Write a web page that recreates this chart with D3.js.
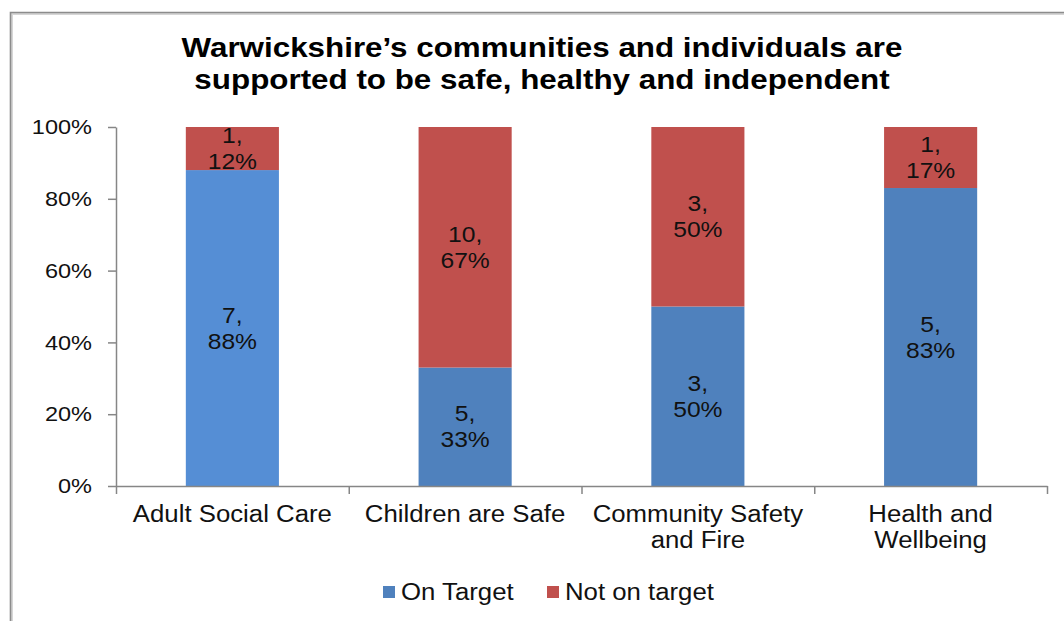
<!DOCTYPE html>
<html>
<head>
<meta charset="utf-8">
<script src="https://cdn.jsdelivr.net/npm/d3@7/dist/d3.min.js"></script>
<style>
  html, body { margin: 0; padding: 0; background: #fff; }
  svg { display: block; font-family: "Liberation Sans", Arial, sans-serif; }
</style>
</head>
<body>
<svg id="chart" width="1064" height="621"></svg>
<script>
// Performance measures by theme: counts and shares on / not on target
const titleLines = ["Warwickshire\u2019s communities and individuals are",
                    "supported to be safe, healthy and independent"];
const categories = ["Adult Social Care", "Children are Safe", "Community Safety and Fire", "Health and Wellbeing"];
const categoryLines = [["Adult Social Care"], ["Children are Safe"], ["Community Safety", "and Fire"], ["Health and", "Wellbeing"]];
const seriesNames = ["On Target", "Not on target"];
const onTargetCount = [7, 5, 3, 5];
const notOnTargetCount = [1, 10, 3, 1];
const onTargetPct = [88, 33, 50, 83];
const notOnTargetPct = [12, 67, 50, 17];
const yTicks = [0, 20, 40, 60, 80, 100];

// Palette
const blue = "#4F81BD", blueLight = "#558ED5", red = "#C0504D";
const onTargetColors = [blueLight, blue, blue, blue];
const axisColor = "#868686";
const STRETCH = 1.12; // text is set slightly wide

const svg = d3.select("#chart");

function widen(sel) {
  sel.each(function () {
    const w = this.getComputedTextLength();
    this.setAttribute("textLength", w * STRETCH);
    this.setAttribute("lengthAdjust", "spacingAndGlyphs");
  });
}

// Frame (top and left edges visible)
svg.append("path").attr("d", "M12,621 V14 H1064").attr("fill", "none")
  .attr("stroke", "#d6d6d6").attr("stroke-width", 2);
svg.append("path").attr("d", "M10.5,621 V12.5 H1064").attr("fill", "none")
  .attr("stroke", "#8c8c8c").attr("stroke-width", 1.6);

// Title
svg.append("g").selectAll("text").data(titleLines).join("text")
  .attr("x", 542).attr("y", (d, i) => 57 + i * 32)
  .attr("text-anchor", "middle").attr("font-size", 28).attr("font-weight", "bold")
  .attr("fill", "#000").text(d => d).call(widen);

// Scales
const x = d3.scaleBand().domain(categories).range([116, 1047]).paddingInner(0.6).paddingOuter(0.3);
const y = d3.scaleLinear().domain([0, 100]).range([486, 127]);
const xEdge = d3.scaleLinear().domain([0, categories.length]).range([116, 1047]);

// Stack
const rows = categories.map((c, i) => ({
  cat: c, i,
  on: onTargetPct[i], off: notOnTargetPct[i],
  onN: onTargetCount[i], offN: notOnTargetCount[i]
}));
const stack = d3.stack().keys(["on", "off"])(rows);

const barG = svg.append("g");
stack.forEach((layer, li) => {
  barG.selectAll(null).data(layer).join("rect")
    .attr("x", d => x(d.data.cat))
    .attr("width", x.bandwidth())
    .attr("y", d => y(d[1]))
    .attr("height", d => y(d[0]) - y(d[1]))
    .attr("fill", d => li === 0 ? onTargetColors[d.data.i] : red);
});

// Data labels: "count," above "pct%"
const labelG = svg.append("g");
stack.forEach((layer, li) => {
  layer.forEach(d => {
    const cx = x(d.data.cat) + x.bandwidth() / 2;
    const cy = (y(d[0]) + y(d[1])) / 2;
    const n = li === 0 ? d.data.onN : d.data.offN;
    const p = li === 0 ? d.data.on : d.data.off;
    [n + ",", p + "%"].forEach((t, k) => {
      labelG.append("text")
        .attr("x", cx).attr("y", cy + (k === 0 ? -13 : 13))
        .attr("dy", "0.35em").attr("text-anchor", "middle")
        .attr("font-size", 22).attr("fill", "#111").text(t).call(widen);
    });
  });
});

// Y axis
const yAxis = svg.append("g").attr("transform", "translate(116,0)")
  .call(d3.axisLeft(y).tickValues(yTicks).tickFormat(d => d + "%")
    .tickSize(8).tickSizeOuter(0).tickPadding(16));
yAxis.select(".domain").attr("stroke", axisColor).attr("stroke-width", 1.5);
yAxis.selectAll(".tick line").attr("stroke", axisColor).attr("stroke-width", 1.5);
yAxis.selectAll(".tick text").attr("font-size", 21).attr("fill", "#111")
  .attr("font-family", "'Liberation Sans', Arial, sans-serif").call(widen);

// X axis: ticks at category boundaries
const xAxis = svg.append("g").attr("transform", "translate(0,486)")
  .call(d3.axisBottom(xEdge).tickValues(d3.range(categories.length + 1))
    .tickFormat("").tickSize(8).tickSizeOuter(0));
xAxis.select(".domain").attr("stroke", axisColor).attr("stroke-width", 1.5);
xAxis.selectAll(".tick line").attr("stroke", axisColor).attr("stroke-width", 1.5);

// Category labels
const catG = svg.append("g");
categories.forEach((c, i) => {
  categoryLines[i].forEach((line, k) => {
    catG.append("text")
      .attr("x", x(c) + x.bandwidth() / 2).attr("y", 522 + k * 26)
      .attr("text-anchor", "middle").attr("font-size", 23).attr("fill", "#111")
      .text(line).call(widen);
  });
});

// Legend
const legendColors = [blue, red];
const legendX = [383, 547];
const legG = svg.append("g");
seriesNames.forEach((s, i) => {
  legG.append("rect").attr("x", legendX[i]).attr("y", 586)
    .attr("width", 12).attr("height", 12).attr("fill", legendColors[i]);
  legG.append("text").attr("x", legendX[i] + 18).attr("y", 600)
    .attr("font-size", 23).attr("fill", "#111").text(s).call(widen);
});
</script>
</body>
</html>
